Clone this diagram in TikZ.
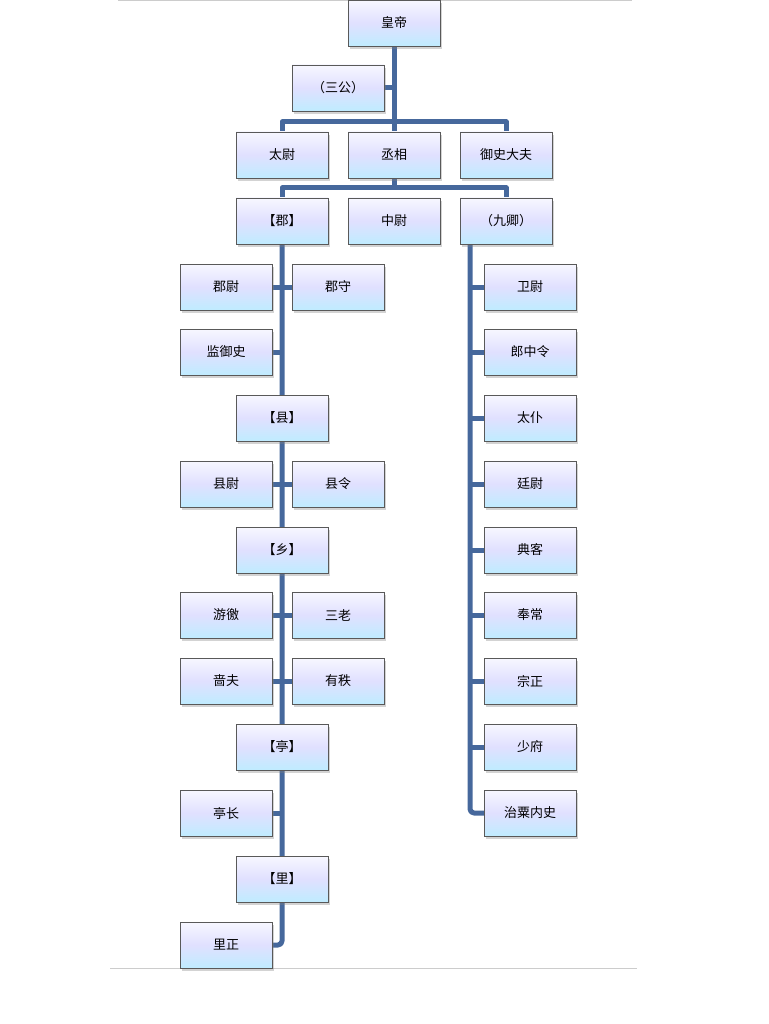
\documentclass[tikz,border=0pt]{standalone}
\usepackage{fontspec}
\setmainfont{Noto Sans CJK SC}
\usetikzlibrary{shadows}
\definecolor{ln}{HTML}{46689C}
\begin{document}
\begin{tikzpicture}[x=1pt,y=-1pt,
 box/.style={draw=gray!70!black,line width=0.6pt,minimum width=92pt,minimum height=46pt,inner sep=0pt,
   top color=white!85!blue!20,bottom color=blue!30!cyan!25!white,middle color=blue!12!white,
   drop shadow={shadow xshift=2pt,shadow yshift=-3pt,opacity=0.35},font=\fontsize{13}{13}\selectfont},
 conn/.style={ln,line width=5pt,line join=round}]
\useasboundingbox (0,0) rectangle (768,1024);
\draw[gray!40,line width=0.6pt] (118,0.5)--(632,0.5);
\draw[gray!40,line width=0.6pt] (110,968)--(637,968);
% connectors
\coordinate (t1) at (394,122); \coordinate (t2) at (394,188);
\coordinate (hl) at (282,122); \coordinate (hr) at (506,122);
\coordinate (gl) at (282,188); \coordinate (gr) at (506,188);
\coordinate (lb) at (282,945); \coordinate (rt) at (470,244); \coordinate (rb) at (470,813);
\draw[conn] (394,23)--(394,188);
\draw[conn] (282,155)--(hl)--(hr)--(506,155);
\draw[conn] (282,221)--(gl)--(gr)--(506,221);
\draw[conn] (384,88)--(394,88);
\draw[conn,rounded corners=4pt] (282,221)--(lb)--(272,945);
\draw[conn,rounded corners=4pt] (rt)--(rb)--(484,813);
\foreach \y in {287,352,418,484,550,615,681,747} \draw[conn] (470,\y)--(484,\y);
\foreach \y in {287,352,484,615,681,813} {\draw[conn] (272,\y)--(282,\y);}
\foreach \y in {287,484,615,681} {\draw[conn] (282,\y)--(292,\y);}
% boxes
\node[box] (hd) at (394,23) {皇帝};
\node[box] (sg) at (338,88) {（三公）};
\node[box] (tw) at (282,155) {太尉};
\node[box] (cx) at (394,155) {丞相};
\node[box] (ys) at (506,155) {御史大夫};
\node[box] (jun) at (282,221) {【郡】};
\node[box] (zw) at (394,221) {中尉};
\node[box] (jq) at (506,221) {（九卿）};
\node[box] (jw) at (226,287) {郡尉};
\node[box] (js) at (338,287) {郡守};
\node[box] (jys) at (226,352) {监御史};
\node[box] (xian) at (282,418) {【县】};
\node[box] (xw) at (226,484) {县尉};
\node[box] (xl) at (338,484) {县令};
\node[box] (xiang) at (282,550) {【乡】};
\node[box] (yj) at (226,615) {游徼};
\node[box] (sl) at (338,615) {三老};
\node[box] (sf) at (226,681) {啬夫};
\node[box] (yz) at (338,681) {有秩};
\node[box] (ting) at (282,747) {【亭】};
\node[box] (tz) at (226,813) {亭长};
\node[box] (li) at (282,879) {【里】};
\node[box] (lz) at (226,945) {里正};
\node[box] (r1) at (530,287) {卫尉};
\node[box] (r2) at (530,352) {郎中令};
\node[box] (r3) at (530,418) {太仆};
\node[box] (r4) at (530,484) {廷尉};
\node[box] (r5) at (530,550) {典客};
\node[box] (r6) at (530,615) {奉常};
\node[box] (r7) at (530,681) {宗正};
\node[box] (r8) at (530,747) {少府};
\node[box] (r9) at (530,813) {治粟内史};
\end{tikzpicture}
\end{document}
